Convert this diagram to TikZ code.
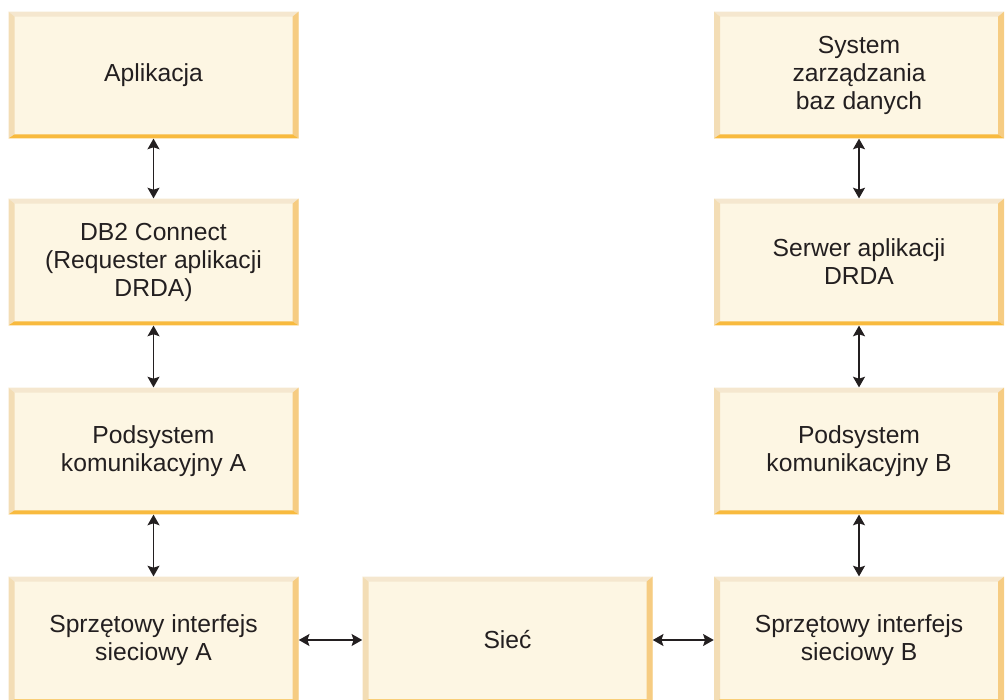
\documentclass[tikz,border=0pt]{standalone}
\usepackage{fontspec}
\setmainfont{Liberation Sans}
\usetikzlibrary{arrows.meta}

\definecolor{boxfill}{HTML}{FDF6E3}
\definecolor{bevtop}{HTML}{F5E7CF}
\definecolor{bevleft}{HTML}{F3DDB5}
\definecolor{bevright}{HTML}{F6CC82}
\definecolor{bevbottom}{HTML}{F8BA3E}
\definecolor{inktext}{HTML}{231F20}

\tikzset{
  bevel/.style={
    path picture={
      \fill [bevtop] (path picture bounding box.north west) -- (path picture bounding box.north east)
        -- ([shift={(-4.5pt,-3.75pt)}]path picture bounding box.north east)
        -- ([shift={(4.5pt,-3.75pt)}]path picture bounding box.north west) -- cycle;
      \fill [bevleft] (path picture bounding box.north west) -- (path picture bounding box.south west)
        -- ([shift={(4.5pt,3pt)}]path picture bounding box.south west)
        -- ([shift={(4.5pt,-3.75pt)}]path picture bounding box.north west) -- cycle;
      \fill [bevright] (path picture bounding box.north east) -- (path picture bounding box.south east)
        -- ([shift={(-4.5pt,3pt)}]path picture bounding box.south east)
        -- ([shift={(-4.5pt,-3.75pt)}]path picture bounding box.north east) -- cycle;
      \fill [bevbottom] (path picture bounding box.south west) -- (path picture bounding box.south east)
        -- ([shift={(-4.5pt,3pt)}]path picture bounding box.south east)
        -- ([shift={(4.5pt,3pt)}]path picture bounding box.south west) -- cycle;
    }
  },
  box/.style={bevel, fill=boxfill, minimum width=217.5pt, minimum height=95pt,
    inner sep=0pt, align=center, text=inktext,
    font=\fontsize{18.5}{21}\selectfont},
  link/.style={{Stealth[length=8pt,width=9pt,inset=1.5pt]}-{Stealth[length=8pt,width=9pt,inset=1.5pt]},
    line width=1.1pt, draw=inktext, fill=inktext}
}

\begin{document}
\begin{tikzpicture}[x=0.75pt, y=-0.75pt]
  \useasboundingbox (0,0) rectangle (1005,699);
  \clip (0,0) rectangle (1005,699);

  % Client side
  \node [box] (app)  at (153.5, 75)  {Aplikacja};
  \node [box] (dbc)  at (153.5, 262) {DB2 Connect\\(Requester aplikacji\\DRDA)};
  \node [box] (podA) at (153.5, 451) {Podsystem\\komunikacyjny A};
  \node [box] (hwA)  at (153.5, 640) {Sprzętowy interfejs\\sieciowy A};

  % Network
  \node [box] (siec) at (507.5, 640) {Sieć};

  % Server side
  \node [box] (dbms) at (859, 75)  {System\\zarządzania\\baz danych};
  \node [box] (srv)  at (859, 262) {Serwer aplikacji\\DRDA};
  \node [box] (podB) at (859, 451) {Podsystem\\komunikacyjny B};
  \node [box] (hwB)  at (859, 640) {Sprzętowy interfejs\\sieciowy B};

  % Connections
  \draw [link] (app.south)  -- (dbc.north);
  \draw [link] (dbc.south)  -- (podA.north);
  \draw [link] (podA.south) -- (hwA.north);
  \draw [link] (hwA.east)   -- (siec.west);
  \draw [link] (siec.east)  -- (hwB.west);
  \draw [link] (dbms.south) -- (srv.north);
  \draw [link] (srv.south)  -- (podB.north);
  \draw [link] (podB.south) -- (hwB.north);
\end{tikzpicture}
\end{document}
